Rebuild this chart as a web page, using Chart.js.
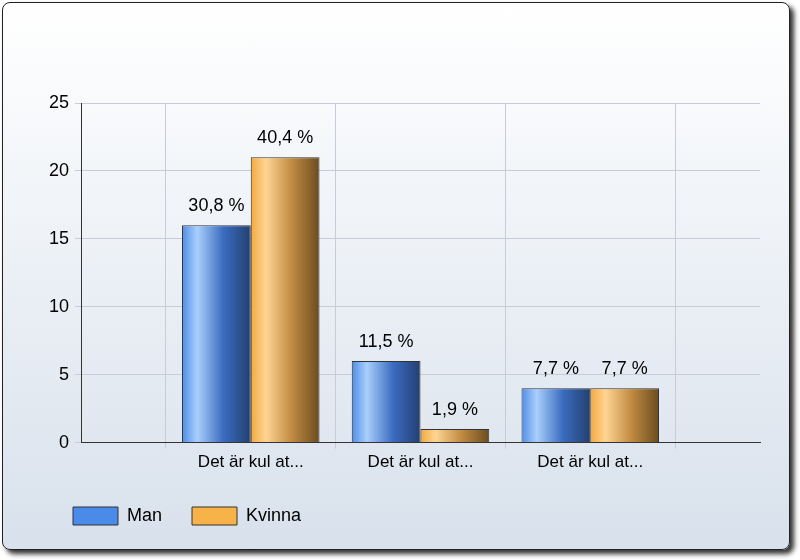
<!DOCTYPE html>
<html><head><meta charset="utf-8">
<script src="https://cdn.jsdelivr.net/npm/chart.js@4/dist/chart.umd.min.js"></script>
<style>
body{margin:0;background:#fff;}
#box{position:absolute;left:2px;top:2px;width:786px;height:546px;border:1px solid #222;border-radius:8px;box-shadow:4px 4px 5px #333;background:linear-gradient(#ffffff,#d8e1ec);overflow:hidden;}
canvas{position:absolute;left:0;top:0;}
</style></head><body>
<div id="box"><canvas id="c" width="786" height="546"></canvas></div>
<script>
const categories=['', 'Det är kul at...', 'Det är kul at...', 'Det är kul at...', ''];
const manValues=[null,16,6,4,null];
const kvinnaValues=[null,21,1,4,null];
const manLabels=[null,'30,8 %','11,5 %','7,7 %',null];
const kvinnaLabels=[null,'40,4 %','1,9 %','7,7 %',null];
const yTicks=[0,5,10,15,20,25];
const stops={Man:['#4f8de8','#a9cffb','#3b6cc0','#233f70'],Kvinna:['#f3a93e','#ffd592','#c08a42','#6a4c1e']};
const font='"Liberation Sans", Arial, sans-serif';
const CP=0.81;
function grad(c){
  const s=stops[c.dataset.label];
  const ch=c.chart, xs=ch.scales.x;
  if(!xs||!ch.chartArea||c.dataIndex==null) return s[0];
  const slot=xs.getPixelForValue(1)-xs.getPixelForValue(0);
  if(!isFinite(slot)||slot<=0) return s[0];
  const bw=slot*CP/2, center=xs.getPixelForValue(c.dataIndex);
  const x0=center-slot*CP/2+c.datasetIndex*bw, x1=x0+bw;
  const g=ch.ctx.createLinearGradient(x0,0,x1,0);
  g.addColorStop(0,s[0]);g.addColorStop(0.22,s[1]);g.addColorStop(0.6,s[2]);g.addColorStop(1,s[3]);
  return g;
}
const labelPlugin={id:'lbl',afterDatasetsDraw(chart){
  const ctx=chart.ctx;ctx.save();ctx.font='18px '+font;ctx.fillStyle='#000';ctx.textAlign='center';ctx.textBaseline='bottom';
  chart.data.datasets.forEach((ds,i)=>{
    chart.getDatasetMeta(i).data.forEach((el,j)=>{
      const t=ds.pctLabels[j];if(!t)return;
      ctx.fillText(t,el.x,el.y-10);
    });
  });ctx.restore();
}};
new Chart(document.getElementById('c'),{type:'bar',
data:{labels:categories,datasets:[
 {label:'Man',data:manValues,pctLabels:manLabels,backgroundColor:grad,legendColor:'#4a8ae8',borderColor:'#333',borderWidth:1,categoryPercentage:CP,barPercentage:1},
 {label:'Kvinna',data:kvinnaValues,pctLabels:kvinnaLabels,backgroundColor:grad,legendColor:'#f7b347',borderColor:'#333',borderWidth:1,categoryPercentage:CP,barPercentage:1}]},
options:{responsive:false,animation:false,
 layout:{padding:{top:100,right:29,left:40,bottom:14}},
 plugins:{tooltip:{enabled:false},legend:{position:'bottom',align:'start',
   labels:{boxWidth:45,boxHeight:18,padding:30,color:'#000',font:{size:18,family:font},
   generateLabels(ch){return ch.data.datasets.map((d,i)=>({text:d.label,fillStyle:d.legendColor,strokeStyle:'#333',lineWidth:1,datasetIndex:i}));}}}},
 scales:{
  x:{offset:false,grid:{color:'#c8ccd8',drawTicks:true,tickLength:6},border:{color:'#333'},
     ticks:{color:'#000',font:{size:17,family:font},maxRotation:0,autoSkip:false,padding:4}},
  y:{min:0,max:25,afterBuildTicks(s){s.ticks=yTicks.map(v=>({value:v}));},
     grid:{color:'#c8ccd8',tickLength:6},border:{color:'#333'},
     ticks:{color:'#000',font:{size:18,family:font},padding:6}}
 }},
plugins:[labelPlugin]});
</script></body></html>
